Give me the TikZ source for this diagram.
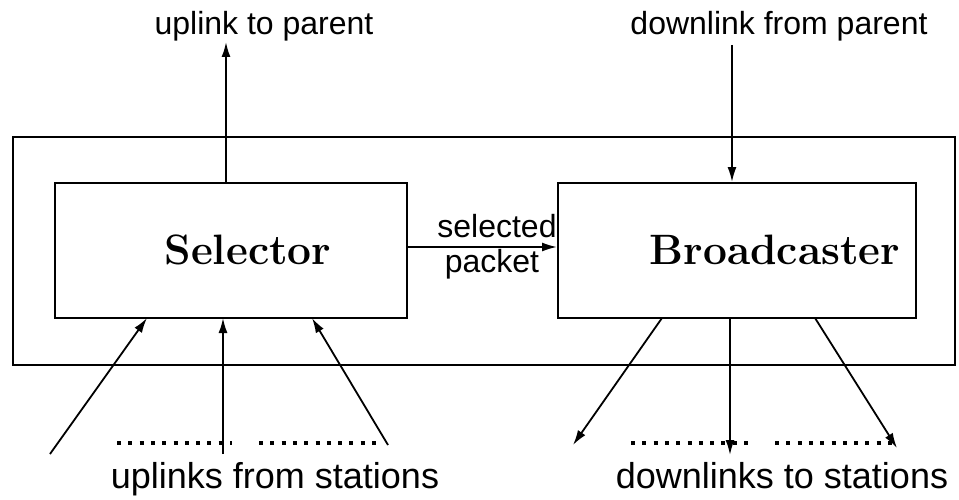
\documentclass[tikz,border=0pt]{standalone}
\usepackage{fontspec}
\setsansfont{Liberation Sans}
\usetikzlibrary{arrows.meta}
\tikzset{
  wire/.style={line width=1.8pt, -{Latex[length=15pt,width=9pt]}},
  box/.style={draw, line width=1.9pt, inner sep=0pt},
  lbl/.style={font=\sffamily\fontsize{32}{36}\selectfont, inner sep=0pt, anchor=base},
  blbl/.style={font=\sffamily\fontsize{36}{40}\selectfont, inner sep=0pt, anchor=base},
  unit/.style={font=\bfseries\fontsize{42.5}{48}\selectfont, inner sep=0pt},
  dots/.style={line width=4pt, dash pattern=on 4pt off 7.3pt}
}
\begin{document}
\begin{tikzpicture}[x=1pt,y=-1pt]
\useasboundingbox (0,0) rectangle (959,500);

% outer frame holding both units
\node[box, minimum width=942pt, minimum height=228pt] (frame) at (484,251) {};

% the two units
\node[box, minimum width=352pt, minimum height=135pt] (sel) at (231,250.5) {};
\node[unit] (seltxt) at (248,250) {Selector};
\node[box, minimum width=358pt, minimum height=135pt] (bro) at (737,250.5) {};
\node[unit] (brotxt) at (775,250) {Broadcaster};

% links to and from the parent
\node[lbl] (up) at (264,35) {uplink to parent};
\node[lbl] (down) at (779,35) {downlink from parent};
\coordinate (uptip) at (226,42);
\coordinate (downstart) at (732,45);
\draw[wire] (sel.north -| uptip) -- (uptip);
\draw[wire] (downstart) -- (downstart |- bro.north);

% selected packet handed to the broadcaster
\draw[wire] (sel.east |- 0,247) -- (bro.west |- 0,247);
\node[lbl] (selp1) at (497,237) {selected};
\node[lbl] (selp2) at (492,272) {packet};

% uplinks from the stations
\coordinate (ua) at (50,454);
\coordinate (ub) at (223,454);
\coordinate (uc) at (388,445);
\coordinate (uae) at (147,318);
\coordinate (ube) at (223,318);
\coordinate (uce) at (312,318);
\draw[wire] (ua) -- (uae);
\draw[wire] (ub) -- (ube);
\draw[wire] (uc) -- (uce);
\coordinate (ud1) at (117,443);
\coordinate (ud2) at (232,443);
\coordinate (ud3) at (259,443);
\coordinate (ud4) at (378,443);
\draw[dots] (ud1) -- (ud2);
\draw[dots] (ud3) -- (ud4);
\node[blbl] (upst) at (275,488) {uplinks from stations};

% downlinks to the stations
\coordinate (da) at (662,318);
\coordinate (db) at (730,318);
\coordinate (dc) at (815,318);
\coordinate (dae) at (573,445);
\coordinate (dbe) at (730,455);
\coordinate (dce) at (897,448);
\draw[wire] (da) -- (dae);
\draw[wire] (db) -- (dbe);
\draw[wire] (dc) -- (dce);
\coordinate (dd1) at (631,443);
\coordinate (dd2) at (752,443);
\coordinate (dd3) at (775,443);
\coordinate (dd4) at (893,443);
\draw[dots] (dd1) -- (dd2);
\draw[dots] (dd3) -- (dd4);
\node[blbl] (downst) at (782,488) {downlinks to stations};
\end{tikzpicture}
\end{document}
